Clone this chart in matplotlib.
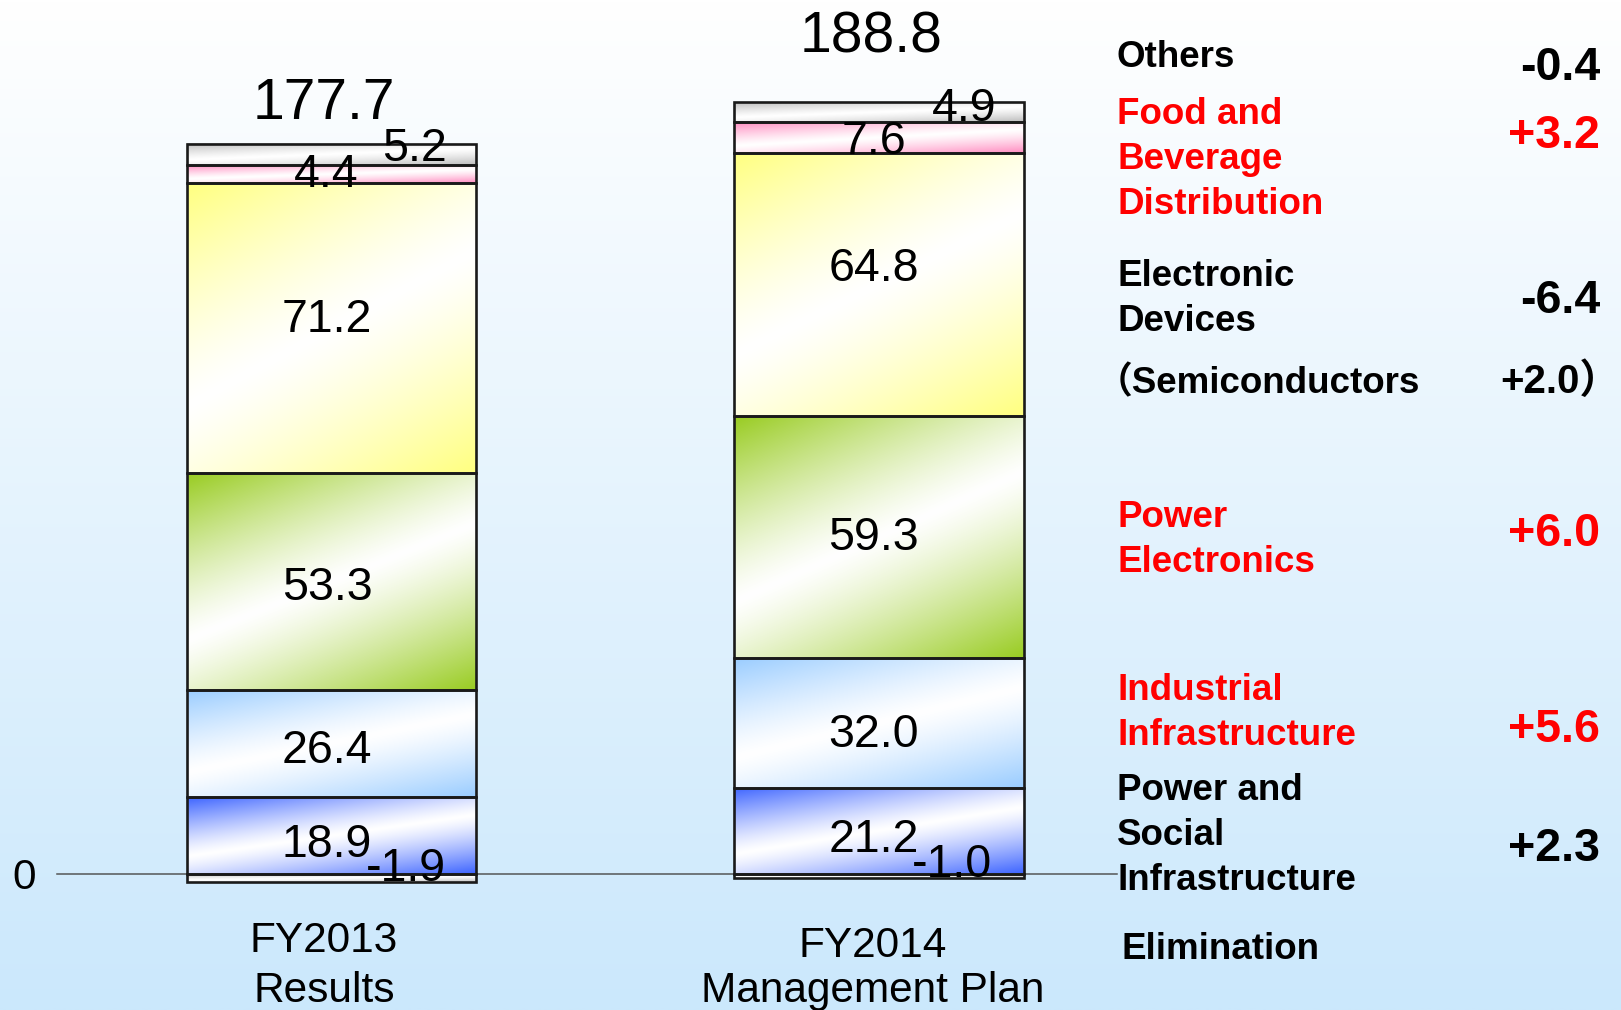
import numpy as np
import matplotlib
matplotlib.use("Agg")
import matplotlib.pyplot as plt
from matplotlib.colors import to_rgb

plt.rcParams['font.family'] = ['Liberation Sans', 'Noto Sans CJK JP', 'DejaVu Sans']

# ---------------- data ----------------
categories_line1 = ['FY2013', 'FY2014']
categories_line2 = ['Results', 'Management Plan']
segment_names = ['Power and Social Infrastructure', 'Industrial Infrastructure',
                 'Power Electronics', 'Electronic Devices',
                 'Food and Beverage Distribution', 'Others']
fy2013 = [18.9, 26.4, 53.3, 71.2, 4.4, 5.2]
fy2014 = [21.2, 32.0, 59.3, 64.8, 7.6, 4.9]
elimination = [-1.9, -1.0]
totals = [177.7, 188.8]
change_values = ['+2.3', '+5.6', '+6.0', '-6.4', '+3.2', '-0.4']
semiconductor_change = '+2.0'

# ---------------- style ----------------
W_PX, H_PX, DPI = 1621, 1010, 100
X0_PX, X_SCALE = 331.5, 547.5      # pixel of x=0, pixels per x unit
Y0_PX, Y_SCALE = 874.0, 4.068      # pixel row of y=0, pixels per value unit
BAR_W = 0.528
seg_colors = ['#3d64ff', '#99ccff', '#99cc22', '#ffff80', '#ff8cc0', '#bcbcbc']
elim_color = '#c0c0c0'
EDGE = '#1a1a1a'
RED = '#ff0000'

fig = plt.figure(figsize=(W_PX / DPI, H_PX / DPI), dpi=DPI)
ax = fig.add_axes([0, 0, 1, 1])
xlim = (-X0_PX / X_SCALE, (W_PX - X0_PX) / X_SCALE)
ylim = (-(H_PX - Y0_PX) / Y_SCALE, Y0_PX / Y_SCALE)
ax.set_axis_off()

# background gradient (white top -> light blue bottom)
top_c = np.array(to_rgb('#ffffff'))
bot_c = np.array(to_rgb('#cbe8fc'))
tt = np.linspace(0, 1, 256)[:, None, None]
bg = top_c * (1 - tt) + bot_c * tt
bg = np.repeat(bg, 2, axis=1)
ax.imshow(bg, extent=(*xlim, *ylim), origin='upper', aspect='auto', zorder=0,
          interpolation='bilinear')


def gradient_image(color, n=160):
    c = np.array(to_rgb(color))
    u = np.linspace(0, 1, n)
    U, V = np.meshgrid(u, u)
    t = 0.35 * U + 0.65 * V
    w = np.clip(np.abs(t - 0.5) / 0.5, 0, 1) ** 1.25
    return 1 - w[..., None] * (1 - c)


def fill_gradient(patch, color):
    x0, w = patch.get_x(), patch.get_width()
    y0, h = patch.get_y(), patch.get_height()
    lo, hi = min(y0, y0 + h), max(y0, y0 + h)
    ax.imshow(gradient_image(color), extent=(x0, x0 + w, lo, hi), origin='upper',
              aspect='auto', zorder=2, interpolation='bilinear')


x = np.arange(len(categories_line1))
data = np.array([fy2013, fy2014])
bottoms = np.zeros(len(x))
seg_centers = []
for j in range(data.shape[1]):
    vals = data[:, j]
    bc = ax.bar(x, vals, bottom=bottoms, width=BAR_W, facecolor='none',
                edgecolor=EDGE, linewidth=1.9, zorder=3)
    for p in bc:
        fill_gradient(p, seg_colors[j])
    seg_centers.append(bottoms + vals / 2)
    bottoms = bottoms + vals
bar_tops = bottoms.copy()
bc = ax.bar(x, elimination, bottom=0, width=BAR_W, facecolor='none',
            edgecolor=EDGE, linewidth=1.9, zorder=3)
for p in bc:
    fill_gradient(p, elim_color)

# zero line
ax.axhline(0, xmin=57 / W_PX, xmax=1117 / W_PX, color='#555555', lw=1.1, zorder=1)
ax.set_xlim(*xlim)
ax.set_ylim(*ylim)


def cap_half(fs):
    return 0.358 * fs * DPI / 72


# segment labels: visual offsets (px) from bar centre / segment centre
FS_IN = 33.5
seg_dx = [[-4.5, -5, -4.5, -4.5, -5.5, 82.5], [-5, -5.5, -5.5, -5.5, -5, 85]]
seg_dy = [[-4.4, -3, -1.7, 13, 4, 10], [-4, -8, 3.6, 20, 0, 8]]
for i in range(len(x)):
    for j in range(data.shape[1]):
        ax.annotate(f'{data[i, j]:.1f}', xy=(x[i], seg_centers[j][i]),
                    xytext=(seg_dx[i][j], seg_dy[i][j] - cap_half(FS_IN)),
                    textcoords='offset pixels', ha='center', va='baseline',
                    fontsize=FS_IN, color='black', zorder=5)
elim_dx = [74.5, 73]
elim_dy = [14, 16]
for i in range(len(x)):
    ax.annotate(f'{elimination[i]:.1f}', xy=(x[i], elimination[i] / 2),
                xytext=(elim_dx[i], elim_dy[i] - cap_half(FS_IN)),
                textcoords='offset pixels', ha='center', va='baseline',
                fontsize=FS_IN, color='black', zorder=5)

# totals
FS_TOT = 41
tot_dx = [-7.5, -8]
tot_dy = [45.7, 69.9]
for i in range(len(x)):
    ax.annotate(f'{totals[i]:.1f}', xy=(x[i], bar_tops[i]),
                xytext=(tot_dx[i], tot_dy[i] - cap_half(FS_TOT)),
                textcoords='offset pixels', ha='center', va='baseline',
                fontsize=FS_TOT, color='black', zorder=5)

# category labels
FS_CAT = 30.5
cat_dx = [-7.5, -6]
cat_base1 = [952, 957]
cat_base2 = [1002, 1002]
for i in range(len(x)):
    ax.annotate(categories_line1[i], xy=(x[i], 0),
                xytext=(cat_dx[i], Y0_PX - cat_base1[i]), textcoords='offset pixels',
                ha='center', va='baseline', fontsize=FS_CAT)
    ax.annotate(categories_line2[i], xy=(x[i], 0),
                xytext=(cat_dx[i], Y0_PX - cat_base2[i]), textcoords='offset pixels',
                ha='center', va='baseline', fontsize=FS_CAT)

# "0" tick label
ax.annotate('0', xy=(xlim[0], 0), xytext=(24, -cap_half(FS_CAT)),
            textcoords='offset pixels', ha='center', va='baseline', fontsize=FS_CAT)


def ftext(px, py, s, **kw):
    fig.text(px / W_PX, 1 - py / H_PX, s, va='baseline', **kw)


# right-hand legend-like labels
FS_LAB = 26.5
FS_VAL = 33.5
LX = 1117
LS = 45
label_blocks = [
    (['Others'], 67, 'black'),
    (['Food and', 'Beverage', 'Distribution'], 124, RED),
    (['Electronic', 'Devices'], 286, 'black'),
    (['Power', 'Electronics'], 527, RED),
    (['Industrial', 'Infrastructure'], 700, RED),
    (['Power and', 'Social', 'Infrastructure'], 800, 'black'),
]
for lines, base, col in label_blocks:
    for k, ln in enumerate(lines):
        ftext(LX, base + k * LS, ln, fontsize=FS_LAB, fontweight='bold', color=col)
ftext(1121, 959, 'Elimination', fontsize=FS_LAB, fontweight='bold', color='black')
ftext(1096, 393, '（Semiconductors', fontsize=FS_LAB, fontweight='bold', color='black')

# change values (ordered as segment_names)
val_base = [861, 742, 546, 313, 148, 80]
val_col = ['black', RED, RED, 'black', RED, 'black']
for v, b, c in zip(change_values, val_base, val_col):
    ftext(1600, b, v, fontsize=FS_VAL, fontweight='bold', color=c, ha='right')
ftext(1620, 393, semiconductor_change + '）', fontsize=29, fontweight='bold',
      color='black', ha='right')

fig.savefig('out.png', dpi=DPI)
